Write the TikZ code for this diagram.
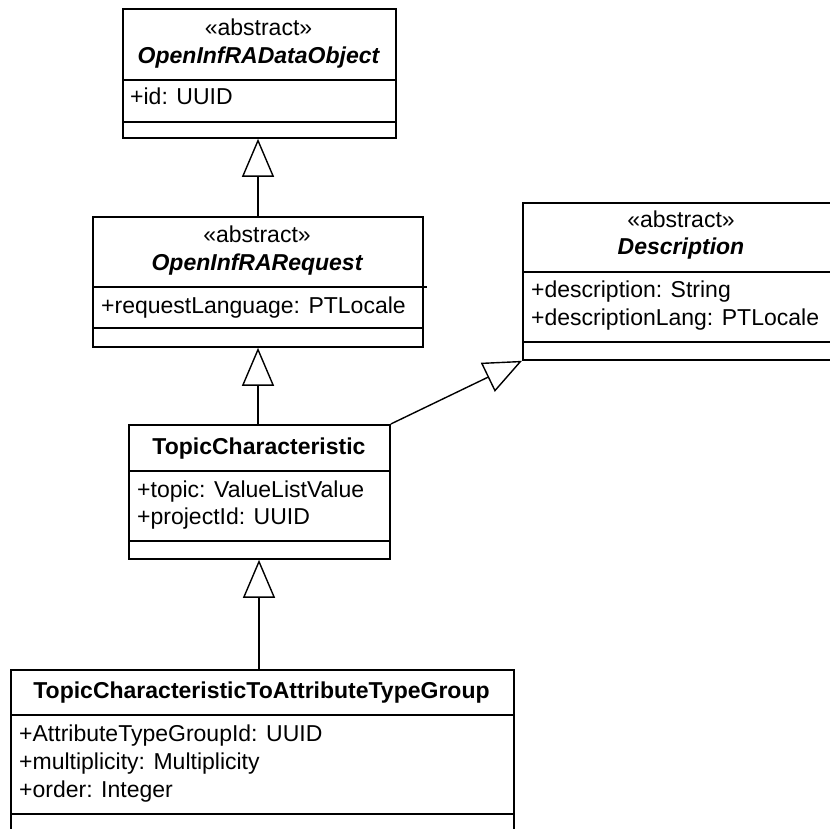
\documentclass[tikz,border=0pt]{standalone}
\usepackage{fontspec}
\setmainfont{Liberation Sans}
\usetikzlibrary{arrows.meta}
\begin{document}
\begin{tikzpicture}[x=1pt,y=-1pt,
  classbox/.style={draw, line width=1.8pt, rectangle, inner sep=0pt, anchor=north west},
  divider/.style={line width=1.8pt},
  gen/.style={line width=1.4pt, -{Triangle[open,length=38pt,width=32pt,line width=1.4pt]}},
  txt/.style={inner sep=0pt, font=\fontsize{23}{27}\selectfont},
  ttl/.style={txt, anchor=base},
  attr/.style={txt, anchor=base west}]
\useasboundingbox (0,0) rectangle (830,828);
\clip (0,0) rectangle (830,828);

% OpenInfRADataObject
\node[classbox, minimum width=273pt, minimum height=129pt] (obj) at (122,8) {};
\draw[divider] (obj.west |- 0,80) -- (obj.east |- 0,80);
\draw[divider] (obj.west |- 0,122) -- (obj.east |- 0,122);
\node[ttl] (objs) at (258.5,35) {«abstract»};
\node[ttl, font=\fontsize{23}{27}\selectfont\bfseries\itshape] (objt) at (258.5,63) {OpenInfRADataObject};
\node[attr] (obja) at (130,104) {+id: UUID};

% OpenInfRARequest
\node[classbox, minimum width=330pt, minimum height=130pt] (req) at (92,216) {};
\draw[divider] (req.west |- 0,287) -- ([xshift=3pt]req.east |- 0,287);
\draw[divider] (req.west |- 0,328) -- (req.east |- 0,328);
\node[ttl] (reqs) at (257,242) {«abstract»};
\node[ttl, font=\fontsize{23}{27}\selectfont\bfseries\itshape] (reqt) at (257,270) {OpenInfRARequest};
\node[attr] (reqa) at (101,313) {+requestLanguage: PTLocale};

% Description
\node[classbox, minimum width=318pt, minimum height=157pt] (desc) at (522,202) {};
\draw[divider] (desc.west |- 0,272) -- (desc.east |- 0,272);
\draw[divider] (desc.west |- 0,342) -- (desc.east |- 0,342);
\node[ttl] (descs) at (681,227) {«abstract»};
\node[ttl, font=\fontsize{23}{27}\selectfont\bfseries\itshape] (desct) at (681,254) {Description};
\node[attr] (desca1) at (531,297) {+description: String};
\node[attr] (desca2) at (531,325) {+descriptionLang: PTLocale};

% TopicCharacteristic
\node[classbox, minimum width=261pt, minimum height=134pt] (tc) at (128,424) {};
\draw[divider] (tc.west |- 0,471) -- (tc.east |- 0,471);
\draw[divider] (tc.west |- 0,541) -- (tc.east |- 0,541);
\node[ttl, font=\fontsize{23}{27}\selectfont\bfseries] (tct) at (259,454) {TopicCharacteristic};
\node[attr] (tca1) at (137,497) {+topic: ValueListValue};
\node[attr] (tca2) at (137,524) {+projectId: UUID};

% TopicCharacteristicToAttributeTypeGroup
\node[classbox, minimum width=503pt, minimum height=200pt] (bot) at (10,669) {};
\draw[divider] (bot.west |- 0,715) -- (bot.east |- 0,715);
\draw[divider] (bot.west |- 0,814) -- (bot.east |- 0,814);
\node[ttl, font=\fontsize{23}{27}\selectfont\bfseries] (bott) at (261.5,698) {TopicCharacteristicToAttributeTypeGroup};
\node[attr] (bota1) at (19,741) {+AttributeTypeGroupId: UUID};
\node[attr] (bota2) at (19,769) {+multiplicity: Multiplicity};
\node[attr] (bota3) at (19,797) {+order: Integer};

% Generalizations
\coordinate (g1) at (258,0);
\draw[gen] (g1 |- req.north) -- (g1 |- obj.south);
\draw[gen] (g1 |- tc.north) -- (g1 |- req.south);
\coordinate (g3) at (259,0);
\draw[gen] (g3 |- bot.north) -- (g3 |- tc.south);
\draw[gen] (tc.north east) -- (desc.south west);
\end{tikzpicture}
\end{document}
